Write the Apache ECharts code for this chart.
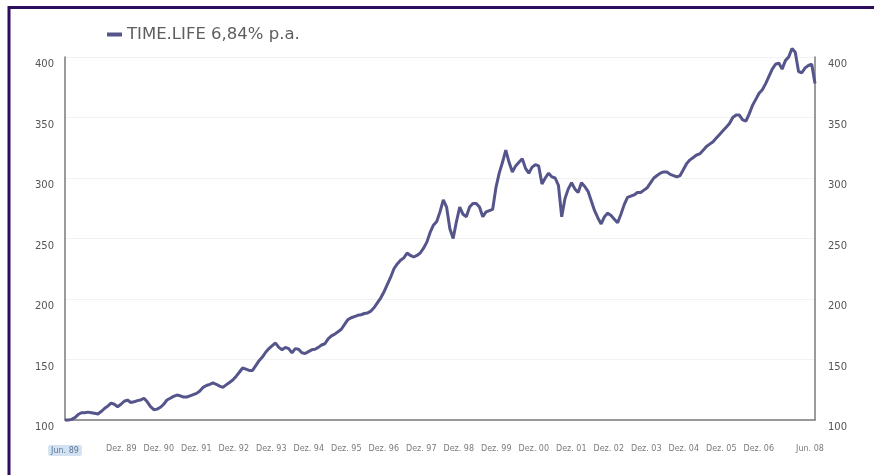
<!DOCTYPE html>
<html>
<head>
<meta charset="utf-8">
<script src="https://cdn.jsdelivr.net/npm/echarts@6/dist/echarts.min.js"></script>
<style>
html,body{margin:0;padding:0;background:#fff;}
#c{width:874px;height:475px;}
</style>
</head>
<body>
<div id="c"></div>
<script>
// Monthly index values, Jun 1989 .. Jun 2008
var seriesName = 'TIME.LIFE 6,84% p.a.';
var startYear = 1989, startMonth = 6;
var values = [
100,100,100.5,102,104.5,106,106,106.5,106,105.5,105,107,
109.5,111.5,114,113,111,113,115.5,116.5,114.5,115,116,116.5,
118,115,111,108.5,109,110.5,113,116.5,118,119.5,120.6,120,
119,119,120,121,122,124,127,128.5,129.5,130.6,129.5,128,
127,129,131,133,136,139.5,143,142,141,141,145,149,
152,156,159,161.5,163.6,160,158,160,159,155.5,159,158.5,
155.5,155,156.5,158,158.5,160,162,163,167,169.5,171,173,
175,179,183,184.5,185.5,186.5,187,188,188.5,190,193,197,
201,206,212,218,225,229,232,234,238,236,234.7,236,
238,242,247,255,261,264,272,282,276,258,250,264,
276,270,268,276,279,279,276,268,272,273,274,292,
304,313,323,313,305,310,313,316,308,304,309,311,
310,295,300,304,301,300,294,268,283,291,296,291,
288,296,293,289,281,273,267,262,268,271,269,266,
263,270,278,284,285,286,288,288,290,292,296,300,
302,304,305,305,303,302,301,302,307,312,315,317,
319,320,323,326,328,330,333,336,339,342,345,350,
352,352,348,347,353,360,365,370,373,378,384,390,
394,395,390,397,400,407,404,388,387,391,393,394,
378
];
var yTicks = {min: 100, max: 400, step: 50};
var xTickLabels = ['Jun. 89','Dez. 89','Dez. 90','Dez. 91','Dez. 92','Dez. 93','Dez. 94','Dez. 95','Dez. 96','Dez. 97','Dez. 98','Dez. 99','Dez. 00','Dez. 01','Dez. 02','Dez. 03','Dez. 04','Dez. 05','Dez. 06','Jun. 08'];

// month categories
var months = [];
for (var i = 0; i < values.length; i++) {
  var mm = startMonth - 1 + i;
  var y = startYear + Math.floor(mm / 12);
  var m = (mm % 12) + 1;
  months.push(y + '-' + (m < 10 ? '0' + m : m));
}

// label slots for the printed tick row (41 evenly spaced slots)
var slots = [];
for (var s = 0; s < 41; s++) slots.push('');
slots[0] = '{hl|' + xTickLabels[0] + '}';
for (var k = 1; k <= 18; k++) slots[1 + 2 * k] = xTickLabels[k];
slots[40] = '{end|' + xTickLabels[19] + '}';

var chart = echarts.init(document.getElementById('c'), null, {renderer: 'canvas'});
var axisColor = '#7a7a7a';
chart.setOption({
  backgroundColor: '#ffffff',
  animation: false,
  graphic: [{
    type: 'rect',
    shape: {x: 9, y: 7.5, width: 900, height: 500},
    style: {fill: 'none', stroke: '#2c0d5e', lineWidth: 3},
    silent: true
  }],
  legend: {
    left: 102, top: 21,
    itemWidth: 15, itemHeight: 4, icon: 'rect', itemGap: 6,
    textStyle: {color: '#5e5e5e', fontSize: 16.5, fontFamily: 'DejaVu Sans'},
    data: [seriesName]
  },
  grid: {left: 65, right: 59, top: 57, bottom: 55},
  xAxis: [{
    type: 'category',
    data: months,
    boundaryGap: false,
    axisLine: {show: true, lineStyle: {color: axisColor, width: 1.5}},
    axisTick: {show: false},
    axisLabel: {show: false},
    splitLine: {show: false}
  }, {
    type: 'category',
    data: slots,
    position: 'bottom',
    boundaryGap: false,
    axisLine: {show: false},
    axisTick: {show: false},
    splitLine: {show: false},
    axisLabel: {
      interval: 0, margin: 25, fontSize: 8, color: '#7a7a7a', fontFamily: 'DejaVu Sans',
      rich: {
        hl: {backgroundColor: '#d3e2f2', color: '#5d7896', fontSize: 8, fontFamily: 'DejaVu Sans', padding: [2, 3, 1, 3], borderRadius: 2},
        end: {fontSize: 8, color: '#7a7a7a', fontFamily: 'DejaVu Sans', padding: [0, 10, 0, 0]}
      }
    }
  }],
  yAxis: [{
    type: 'value', min: yTicks.min, max: yTicks.max, interval: yTicks.step,
    position: 'left',
    axisLine: {show: true, lineStyle: {color: axisColor, width: 1.5}},
    axisTick: {show: false},
    axisLabel: {fontSize: 10, color: '#555', margin: 11, verticalAlign: 'top', lineHeight: 15, fontFamily: 'DejaVu Sans'},
    splitLine: {show: true, lineStyle: {color: '#f2f2f2', width: 1}}
  }, {
    type: 'value', min: yTicks.min, max: yTicks.max, interval: yTicks.step,
    position: 'right',
    axisLine: {show: true, lineStyle: {color: axisColor, width: 1.5}},
    axisTick: {show: false},
    axisLabel: {fontSize: 10, color: '#555', margin: 13, verticalAlign: 'top', lineHeight: 15, fontFamily: 'DejaVu Sans'},
    splitLine: {show: false}
  }],
  series: [{
    name: seriesName,
    type: 'line',
    xAxisIndex: 0, yAxisIndex: 0,
    data: values,
    showSymbol: false,
    symbol: 'none',
    clip: false,
    lineStyle: {color: '#55558c', width: 3},
    itemStyle: {color: '#55558c'}
  }]
});
</script>
</body>
</html>
